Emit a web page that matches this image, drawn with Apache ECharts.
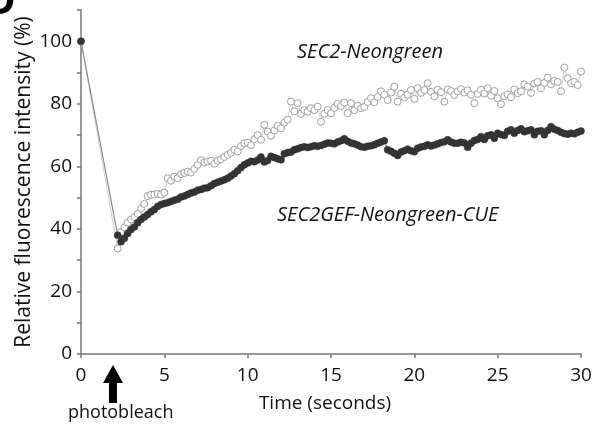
<!DOCTYPE html>
<html style="height: 100%;">
  <head>
    <meta charset="utf-8" />
  </head>
  <body style="height: 100%; margin: 0; background: #fff;">
    <div id="container" style="width: 598px; height: 429px;"></div>
    <script src="https://cdn.jsdelivr.net/npm/echarts@6/dist/echarts.min.js"></script>
    <script type="text/javascript">
      // time of each frame (s); frame 0 is before photobleach
      var times = [
        0,
        2.2, 2.4, 2.6, 2.8, 3.0, 3.2, 3.4, 3.6, 3.8, 4.0,
        4.2, 4.4, 4.6, 4.8, 5.0, 5.2, 5.4, 5.6, 5.8, 6.0,
        6.2, 6.4, 6.6, 6.8, 7.0, 7.2, 7.4, 7.6, 7.8, 8.0,
        8.2, 8.4, 8.6, 8.8, 9.0, 9.2, 9.4, 9.6, 9.8, 10.0,
        10.2, 10.4, 10.6, 10.8, 11.0, 11.2, 11.4, 11.6, 11.8, 12.0,
        12.2, 12.4, 12.6, 12.8, 13.0, 13.2, 13.4, 13.6, 13.8, 14.0,
        14.2, 14.4, 14.6, 14.8, 15.0, 15.2, 15.4, 15.6, 15.8, 16.0,
        16.2, 16.4, 16.6, 16.8, 17.0, 17.2, 17.4, 17.6, 17.8, 18.0,
        18.2, 18.4, 18.6, 18.8, 19.0, 19.2, 19.4, 19.6, 19.8, 20.0,
        20.2, 20.4, 20.6, 20.8, 21.0, 21.2, 21.4, 21.6, 21.8, 22.0,
        22.2, 22.4, 22.6, 22.8, 23.0, 23.2, 23.4, 23.6, 23.8, 24.0,
        24.2, 24.4, 24.6, 24.8, 25.0, 25.2, 25.4, 25.6, 25.8, 26.0,
        26.2, 26.4, 26.6, 26.8, 27.0, 27.2, 27.4, 27.6, 27.8, 28.0,
        28.2, 28.4, 28.6, 28.8, 29.0, 29.2, 29.4, 29.6, 29.8, 30.0
      ];

      // SEC2-Neongreen (open grey circles)
      var sec2 = [
        100,
        33.7, 39.0, 40.5, 42.0, 43.0, 43.8, 44.8, 46.5, 48.0, 50.5,
        50.9, 51.0, 51.2, 51.0, 51.6, 56.2, 55.4, 56.7, 56.2, 57.5,
        57.9, 58.3, 58.0, 59.2, 60.5, 62.0, 61.2, 61.5, 61.8, 60.8,
        61.8, 62.3, 63.0, 63.7, 64.3, 65.3, 64.8, 66.5, 67.4, 67.6,
        66.8, 68.7, 70.0, 68.5, 73.3, 71.1, 69.8, 71.5, 73.0, 72.2,
        74.0, 74.9, 80.7, 77.6, 80.2, 76.8, 78.0, 77.5, 78.6, 78.0,
        79.1, 74.3, 76.8, 78.0, 77.0, 78.7, 80.0, 79.3, 80.4, 77.0,
        80.2, 78.0, 79.4, 78.6, 79.0, 80.6, 81.8, 80.5, 82.2, 84.0,
        82.9, 81.2, 83.6, 85.5, 80.7, 83.2, 82.0, 82.9, 84.4, 81.6,
        85.0, 83.5, 84.4, 86.6, 83.8, 82.4, 84.5, 83.7, 80.7, 84.6,
        84.1, 82.8, 84.0, 84.7, 83.6, 84.3, 82.9, 80.2, 83.2, 84.5,
        83.3, 85.0, 82.6, 84.1, 81.8, 79.9, 82.4, 83.0, 82.1, 84.6,
        83.4, 84.0, 86.2, 85.5, 83.5, 86.5, 87.0, 85.0, 86.7, 88.4,
        86.2, 87.3, 87.0, 84.0, 91.6, 88.2, 86.6, 87.0, 86.0, 90.3
      ];

      // SEC2GEF-Neongreen-CUE (filled dark circles)
      var sec2gef = [
        100,
        38.0, 35.9, 37.0, 38.5, 39.8, 40.6, 42.0, 43.0, 43.8, 44.6,
        45.5, 46.2, 47.2, 47.8, 48.1, 48.4, 48.8, 49.2, 49.5, 50.2,
        50.5, 51.0, 51.5, 51.8, 52.4, 52.6, 53.0, 53.2, 53.8, 54.5,
        54.9, 55.3, 55.7, 56.2, 56.9, 57.6, 58.6, 59.6, 60.5, 61.1,
        61.6, 61.5, 62.0, 63.0, 61.4, 61.9, 63.2, 62.8, 62.4, 62.1,
        64.0, 64.4, 64.6, 65.3, 65.6, 66.0, 66.3, 66.0, 66.3, 66.6,
        66.4, 66.7, 67.1, 67.5, 67.4, 67.2, 67.8, 68.2, 68.8, 68.0,
        67.5, 67.2, 66.8, 66.3, 66.1, 66.4, 66.6, 66.9, 67.4, 67.8,
        68.2, 65.3, 64.8, 64.2, 63.5, 64.6, 65.0, 65.5, 65.0, 64.7,
        65.8, 66.2, 66.4, 66.9, 66.5, 66.8, 67.2, 67.6, 67.9, 68.5,
        67.8, 67.4, 67.4, 67.7, 67.5, 66.1, 67.4, 68.3, 68.6, 69.5,
        68.6, 69.8, 70.1, 69.0, 70.6, 70.2, 69.9, 71.2, 71.7, 70.6,
        71.5, 72.0, 71.1, 71.4, 71.7, 70.1, 71.2, 71.4, 70.1, 71.5,
        72.7, 71.9, 71.5, 70.9, 70.5, 70.3, 70.6, 70.4, 70.9, 71.3
      ];

      var yTickLabels = ["0", "20", "40", "60", "80", "100"];

      function pairs(vals) {
        return vals.map(function (v, i) { return [times[i], v]; });
      }

      var font = "'Open Sans', 'Noto Sans', sans-serif";
      var dom = document.getElementById("container");
      var myChart = echarts.init(dom, null, { renderer: "canvas" });

      var option = {
        animation: false,
        backgroundColor: "#fff",
        grid: { left: 81, right: 17, top: 10, bottom: 75 },
        xAxis: {
          type: "value",
          min: 0,
          max: 30,
          interval: 5,
          name: "Time (seconds)",
          nameLocation: "middle",
          nameGap: 40,
          nameMoveOverlap: false,
          nameTextStyle: { fontFamily: font, fontSize: 19, color: "#111", padding: [0, 12, 0, 0] },
          axisLine: { lineStyle: { color: "#777", width: 1.5 } },
          axisTick: { inside: false, length: 4, lineStyle: { color: "#777", width: 1.5 } },
          axisLabel: { fontFamily: font, fontSize: 19, color: "#111", margin: 12 },
          splitLine: { show: false }
        },
        yAxis: {
          type: "value",
          min: 0,
          max: 110,
          interval: 10,
          name: "Relative fluorescence intensity (%)",
          nameLocation: "middle",
          nameGap: 46,
          nameMoveOverlap: false,
          nameTextStyle: { fontFamily: font, fontSize: 21, color: "#111", padding: [0, 0, 0, 0] },
          axisLine: { lineStyle: { color: "#777", width: 1.5 } },
          axisTick: { length: 4, lineStyle: { color: "#777", width: 1.5 } },
          axisLabel: {
            fontFamily: font,
            fontSize: 19,
            color: "#111",
            margin: 9,
            formatter: function (v) {
              return yTickLabels.indexOf(String(v)) >= 0 ? String(v) : "";
            }
          },
          splitLine: { show: false }
        },
        series: [
          {
            name: "SEC2-Neongreen",
            type: "line",
            data: pairs(sec2),
            symbol: "circle",
            symbolSize: 7,
            lineStyle: { color: "#cfcfcf", width: 1 },
            itemStyle: { color: "#fff", borderColor: "#a0a0a0", borderWidth: 1 },
            z: 2
          },
          {
            name: "SEC2GEF-Neongreen-CUE",
            type: "line",
            data: pairs(sec2gef),
            symbol: "circle",
            symbolSize: 7,
            lineStyle: { color: "#8a8a8a", width: 1.2 },
            itemStyle: { color: "#353535", borderColor: "#2a2a2a", borderWidth: 0.5 },
            z: 3
          }
        ],
        graphic: [
          {
            type: "text",
            left: -14,
            top: -17,
            style: { text: "D", font: "bold 40px " + font, fill: "#000" }
          },
          {
            type: "text",
            left: 297,
            top: 42,
            style: { text: "SEC2-Neongreen", font: "italic 20px " + font, fill: "#111" }
          },
          {
            type: "text",
            left: 277,
            top: 205,
            style: { text: "SEC2GEF-Neongreen-CUE", font: "italic 20px " + font, fill: "#111" }
          },
          {
            type: "text",
            left: 68,
            top: 404,
            style: { text: "photobleach", font: "18px " + font, fill: "#111" }
          },
          {
            type: "polygon",
            shape: {
              points: [[113, 365], [103, 383], [109, 383], [109, 403], [117, 403], [117, 383], [123, 383]]
            },
            style: { fill: "#000" }
          }
        ]
      };

      myChart.setOption(option);
    </script>
  </body>
</html>
